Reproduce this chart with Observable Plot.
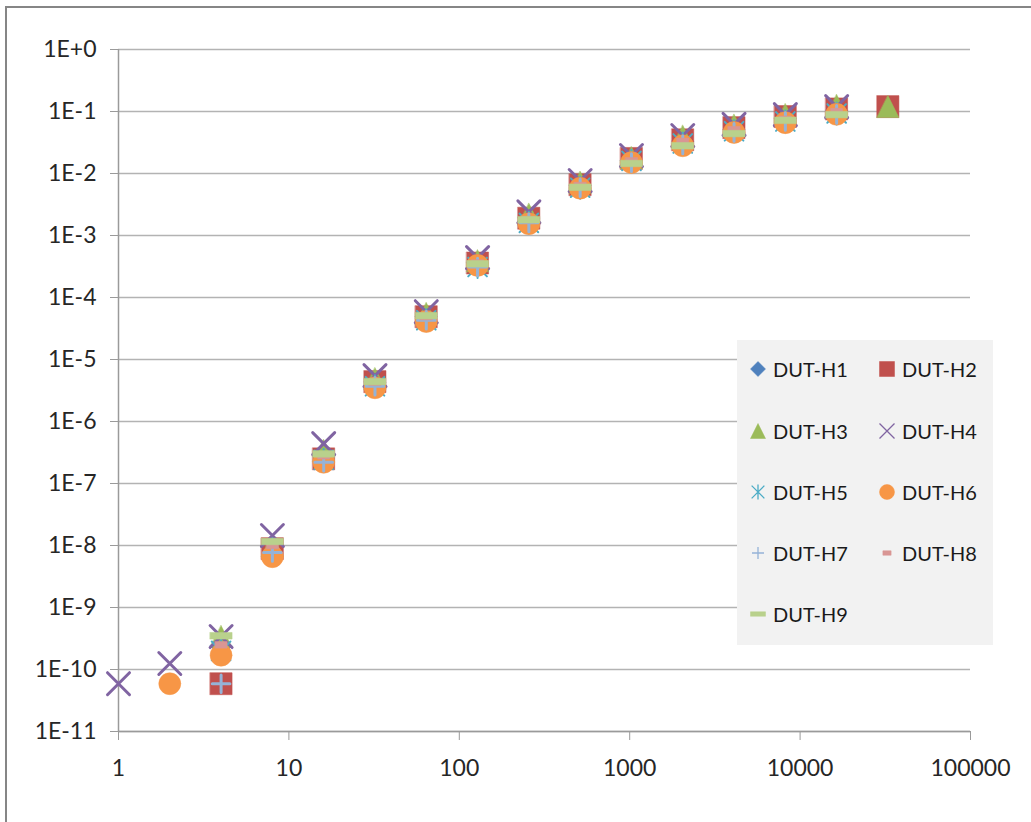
<!DOCTYPE html>
<html><head><meta charset="utf-8">
<script src="https://cdn.jsdelivr.net/npm/d3@7"></script>
<script src="https://cdn.jsdelivr.net/npm/@observablehq/plot@0.6"></script>
<style>
body{margin:0;background:#fff;}
#wrap{position:relative;width:1031px;height:822px;overflow:hidden;background:#fff;}
#border{position:absolute;left:5px;top:6px;width:1100px;height:900px;border-left:2px solid #868686;border-top:2px solid #868686;pointer-events:none;}
#legend{position:absolute;left:737px;top:340px;width:256px;height:305px;background:#f2f2f2;font-family:Lato,sans-serif;font-size:20px;color:#1a1a1a;}
.item{position:absolute;height:24px;line-height:24px;white-space:nowrap;}
.item svg{position:absolute;left:-14px;top:2px;overflow:visible;}
</style></head><body>
<div id="wrap"><div id="border"></div><div id="legend"></div></div>
<script>
// ---- data ----
const xValues = [1,2,4,8,16,32,64,128,256,512,1024,2048,4096,8192,16384,32768];
const seriesNames = ["DUT-H1","DUT-H2","DUT-H3","DUT-H4","DUT-H5","DUT-H6","DUT-H7","DUT-H8","DUT-H9"];
const H1 = [null,null,2.4e-10,9.4e-9,2.8e-7,4.3e-6,4.9e-5,3.6e-4,1.9e-3,6.4e-3,1.6e-2,3.3e-2,5.1e-2,7.7e-2,1.04e-1,null];
const H2 = [null,null,5.9e-11,8.9e-9,2.5e-7,4.4e-6,4.9e-5,3.6e-4,1.9e-3,6.6e-3,1.75e-2,3.5e-2,5.5e-2,8.3e-2,1.1e-1,1.2e-1];
const H3 = [null,null,3.4e-10,1.0e-8,3.4e-7,4.9e-6,5.5e-5,3.9e-4,2.2e-3,7.2e-3,1.8e-2,4.0e-2,6.0e-2,8.9e-2,1.25e-1,1.2e-1];
const H4 = [5.9e-11,1.25e-10,3.4e-10,1.45e-8,4.4e-7,5.5e-6,5.9e-5,4.4e-4,2.4e-3,7.7e-3,1.95e-2,4.1e-2,6.2e-2,8.9e-2,1.2e-1,null];
const H5 = [null,null,2.0e-10,8.7e-9,2.4e-7,3.7e-6,4.3e-5,3.1e-4,1.6e-3,5.9e-3,1.6e-2,3.05e-2,4.8e-2,6.9e-2,9.3e-2,null];
const H6 = [null,5.9e-11,1.7e-10,6.6e-9,2.2e-7,3.5e-6,4.1e-5,3.3e-4,1.55e-3,5.8e-3,1.5e-2,2.8e-2,4.6e-2,6.6e-2,9.0e-2,null];
const H7 = [null,null,5.9e-11,7.7e-9,2.2e-7,3.7e-6,4.3e-5,3.1e-4,1.6e-3,5.9e-3,1.5e-2,2.9e-2,4.6e-2,6.9e-2,9.0e-2,null];
const H8 = [null,null,2.5e-10,1.0e-8,2.8e-7,4.3e-6,4.9e-5,3.6e-4,1.8e-3,6.4e-3,1.6e-2,3.3e-2,5.1e-2,7.5e-2,1.0e-1,null];
const H9 = [null,null,3.5e-10,1.16e-8,3.0e-7,4.4e-6,5.1e-5,3.5e-4,1.8e-3,6.0e-3,1.45e-2,2.8e-2,4.4e-2,7.2e-2,8.9e-2,null];
const xTicks = [1,10,100,1000,10000,100000];
const xTickLabels = ["1","10","100","1000","10000","100000"];
const yTicks = [1,1e-1,1e-2,1e-3,1e-4,1e-5,1e-6,1e-7,1e-8,1e-9,1e-10,1e-11];
const yTickLabels = ["1E+0","1E-1","1E-2","1E-3","1E-4","1E-5","1E-6","1E-7","1E-8","1E-9","1E-10","1E-11"];

// ---- styles ----
const colors = ["#4F81BD","#C0504D","#9BBB59","#8064A2","#4BACC6","#F79646","#95B3D7","#D99694","#B9D18C"];
function sym(f){ return {draw(c, size){ f(c, Math.sqrt(size/Math.PI)); }}; }
const symbolDefs = [
  {s: sym((c,h)=>{c.moveTo(0,-h);c.lineTo(h,0);c.lineTo(0,h);c.lineTo(-h,0);c.closePath();}), filled:true},
  {s: sym((c,h)=>{c.rect(-h,-h,2*h,2*h);}), filled:true},
  {s: sym((c,h)=>{c.moveTo(0,-h);c.lineTo(h,h);c.lineTo(-h,h);c.closePath();}), filled:true},
  {s: sym((c,h)=>{c.moveTo(-h,-h);c.lineTo(h,h);c.moveTo(h,-h);c.lineTo(-h,h);}), filled:false, sw:3, lsw:1.3},
  {s: sym((c,h)=>{const k=0.85*h;c.moveTo(-k,-k);c.lineTo(k,k);c.moveTo(k,-k);c.lineTo(-k,k);c.moveTo(0,-h);c.lineTo(0,h);}), filled:false, sw:2, lsw:1.3},
  {s: sym((c,h)=>{c.moveTo(h,0);c.arc(0,0,h,0,2*Math.PI);}), filled:true},
  {s: sym((c,h)=>{const k=0.8*h;c.moveTo(-k,0);c.lineTo(k,0);c.moveTo(0,-k);c.lineTo(0,k);}), filled:false, sw:3, lsw:1.3},
  {s: sym((c,h)=>{c.rect(-0.55*h,-0.3*h,1.1*h,0.6*h);}), filled:true},
  {s: sym((c,h)=>{c.rect(-h,-0.3*h,2*h,0.6*h);}), filled:true}
];
const seriesValues = [H1,H2,H3,H4,H5,H6,H7,H8,H9];

const marks = [
  Plot.gridY(yTicks, {stroke:"#b3b3b3", strokeOpacity:1, strokeWidth:1.5}),
  Plot.ruleX([1], {stroke:"#9a9a9a", strokeWidth:1.5}),
  Plot.ruleY([1e-11], {stroke:"#9a9a9a", strokeWidth:1.5}),
  Plot.axisX(xTicks, {label:null, tickFormat:(d)=>xTickLabels[xTicks.indexOf(d)], tickSize:9, tickPadding:19, stroke:"#9a9a9a", fill:"#262626", fontSize:23}),
  Plot.axisY(yTicks, {label:null, tickFormat:(d)=>yTickLabels[yTicks.indexOf(d)], tickSize:8, tickPadding:14, stroke:"#9a9a9a", fill:"#262626", fontSize:23})
];
seriesValues.forEach((vals, i) => {
  const rows = xValues.map((x, j) => ({x, y: vals[j]})).filter(d => d.y != null);
  const def = symbolDefs[i];
  marks.push(Plot.dot(rows, {
    x:"x", y:"y", symbol: def.s, r: 11,
    fill: def.filled ? colors[i] : "none",
    stroke: colors[i], strokeWidth: def.filled ? 0.5 : def.sw,
    strokeLinecap:"round"
  }));
});

const chart = Plot.plot({
  width: 1031, height: 822,
  marginLeft: 118, marginRight: 61, marginTop: 49, marginBottom: 91,
  style: {fontFamily: "Lato, sans-serif", fontSize: "23px", background: "transparent"},
  x: {type: "log", domain: [1, 100000], axis: null, label: null},
  y: {type: "log", domain: [1e-11, 1], axis: null, label: null},
  marks
});
chart.style.position = "absolute";
chart.style.left = "0px";
chart.style.top = "0px";
document.getElementById("wrap").insertBefore(chart, document.getElementById("border"));

// ---- legend ----
const legend = document.getElementById("legend");
const rowsY = [29, 91, 152, 213, 274];
const colX = [36, 165];
seriesNames.forEach((name, i) => {
  const item = document.createElement("div");
  item.className = "item";
  const r = Math.floor(i / 2), c = i % 2;
  item.style.left = colX[c] + "px";
  item.style.top = (rowsY[r] - 12) + "px";
  const def = symbolDefs[i];
  const svg = d3.create("svg").attr("width", 16).attr("height", 20);
  svg.append("path")
    .attr("transform", "translate(-1,10)")
    .attr("d", d3.symbol(def.s, Math.PI * 7.5 * 7.5)())
    .attr("fill", def.filled ? colors[i] : "none")
    .attr("stroke", colors[i])
    .attr("stroke-width", def.filled ? 0.5 : def.lsw);
  item.appendChild(svg.node());
  item.appendChild(document.createTextNode(name));
  legend.appendChild(item);
});
</script>
</body></html>
